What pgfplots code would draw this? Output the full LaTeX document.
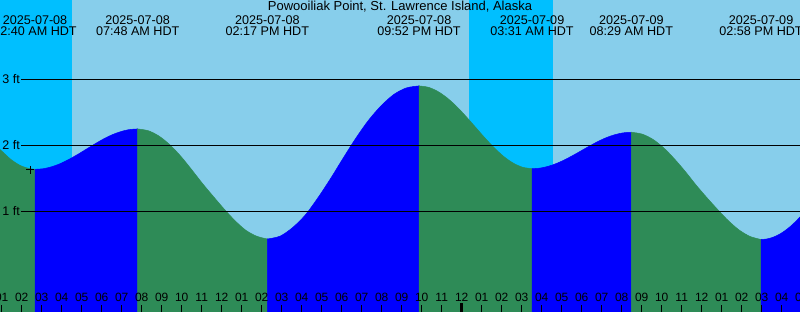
\documentclass[border=0pt]{standalone}
\usepackage{pgfplots}
\pgfplotsset{compat=1.18}
\usepackage{fontspec}
\setmainfont{Liberation Sans}
\definecolor{skyday}{HTML}{87CEEB}
\definecolor{skynight}{HTML}{00BFFF}
\definecolor{rise}{HTML}{0000FF}
\definecolor{fall}{HTML}{2E8B57}
\newcommand\hourlab[1]{\pgfmathtruncatemacro\hh{mod(#1-1,12)+1}\ifnum\hh<10 0\fi\hh}
\begin{document}
\begin{tikzpicture}
\begin{axis}[
  at={(0,0)}, anchor=south west,
  scale only axis, width=800pt, height=312pt,
  xmin=0.915, xmax=40.915, ymin=-0.5151, ymax=4.1979,
  axis background/.style={fill=skyday},
  axis line style={draw=none},
  axis on top=true,
  ytick=\empty,
  xtick={1,2,...,40}, xticklabel={},
  extra x ticks={24}, extra x tick labels={},
  extra x tick style={major tick length=8.7pt, tick style={line width=3pt, black}},
  tick pos=left, tick align=inside, major tick length=7pt,
  tick style={black, line width=1pt},
  clip=true,
]
% night bands
\addplot[fill=skynight, draw=none] coordinates {(0,-1) (4.5,-1) (4.5,5) (0,5)} -- cycle;
\addplot[fill=skynight, draw=none] coordinates {(24.365,-1) (28.565,-1) (28.565,5) (24.365,5)} -- cycle;
% tide segments
\addplot[fill=fall, draw=fall, line width=0.5pt, smooth] coordinates {
(0.915,1.94) (1.165,1.87) (1.415,1.80) (1.665,1.745) (1.915,1.70) (2.165,1.67) (2.415,1.65) (2.667,1.64)
} -- (axis cs:2.667,-1) -- (axis cs:0.915,-1) -- cycle;
\addplot[fill=rise, draw=rise, line width=0.5pt, smooth] coordinates {
(2.667,1.640) (3.095,1.650) (3.523,1.681) (3.950,1.729) (4.378,1.793) (4.806,1.866) (5.234,1.945)
(5.661,2.024) (6.089,2.098) (6.517,2.161) (6.945,2.209) (7.372,2.240) (7.800,2.250)
} -- (axis cs:7.8,-1) -- (axis cs:2.667,-1) -- cycle;
\addplot[fill=fall, draw=fall, line width=0.5pt, smooth] coordinates {
(7.800,2.250) (8.340,2.222) (8.881,2.139) (9.421,2.007) (9.961,1.835) (10.501,1.634) (11.042,1.425)
(11.582,1.230) (12.122,1.040) (12.662,0.865) (13.203,0.720) (13.743,0.630) (14.283,0.588)
} -- (axis cs:14.283,-1) -- (axis cs:7.8,-1) -- cycle;
\addplot[fill=rise, draw=rise, line width=0.5pt, smooth] coordinates {
(14.283,0.588) (14.915,0.630) (15.547,0.760) (16.179,0.950) (16.811,1.210) (17.443,1.500) (18.075,1.810)
(18.707,2.110) (19.339,2.380) (19.971,2.600) (20.603,2.770) (21.235,2.870) (21.867,2.900)
} -- (axis cs:21.867,-1) -- (axis cs:14.283,-1) -- cycle;
\addplot[fill=fall, draw=fall, line width=0.5pt, smooth] coordinates {
(21.867,2.900) (22.338,2.879) (22.809,2.816) (23.279,2.717) (23.750,2.588) (24.221,2.437) (24.692,2.275)
(25.163,2.113) (25.634,1.963) (26.104,1.833) (26.575,1.734) (27.046,1.671) (27.517,1.650)
} -- (axis cs:27.517,-1) -- (axis cs:21.867,-1) -- cycle;
\addplot[fill=rise, draw=rise, line width=0.5pt, smooth] coordinates {
(27.517,1.650) (27.931,1.659) (28.345,1.687) (28.758,1.731) (29.172,1.788) (29.586,1.854) (30.000,1.925)
(30.414,1.996) (30.828,2.063) (31.241,2.120) (31.655,2.163) (32.069,2.191) (32.483,2.200)
} -- (axis cs:32.483,-1) -- (axis cs:27.517,-1) -- cycle;
\addplot[fill=fall, draw=fall, line width=0.5pt, smooth] coordinates {
(32.483,2.200) (33.023,2.172) (33.564,2.092) (34.104,1.963) (34.644,1.795) (35.185,1.605) (35.725,1.400)
(36.265,1.210) (36.805,1.030) (37.346,0.860) (37.886,0.720) (38.426,0.625) (38.967,0.580)
} -- (axis cs:38.967,-1) -- (axis cs:32.483,-1) -- cycle;
\addplot[fill=rise, draw=rise, line width=0.5pt, smooth] coordinates {
(38.967,0.580) (39.217,0.586) (39.467,0.604) (39.717,0.633) (39.967,0.673) (40.217,0.725)
(40.467,0.786) (40.717,0.858) (40.915,0.920)
} -- (axis cs:40.915,-1) -- (axis cs:38.967,-1) -- cycle;
% level lines
\addplot[black, line width=1pt] coordinates {(1.965,1) (40.915,1)};
\addplot[black, line width=1pt] coordinates {(1.965,2) (40.915,2)};
\addplot[black, line width=1pt] coordinates {(1.965,3) (40.915,3)};
% marker
\addplot[only marks, mark=+, mark size=4pt, black, line width=1pt] coordinates {(2.415,1.63)};
% level labels
\node[anchor=base east, inner sep=0, font=\fontsize{12.5}{14}\selectfont] at (axis cs:1.915,2.94) {3 ft};
\node[anchor=base east, inner sep=0, font=\fontsize{12.5}{14}\selectfont] at (axis cs:1.915,1.94) {2 ft};
\node[anchor=base east, inner sep=0, font=\fontsize{12.5}{14}\selectfont] at (axis cs:1.915,0.94) {1 ft};
% hour labels
\pgfplotsinvokeforeach{1,...,41}{\node[anchor=base, inner sep=0, font=\fontsize{12}{14}\selectfont] at (axis cs:#1,-0.364) {\hourlab{#1}};}
% title
\node[anchor=base, inner sep=0, font=\fontsize{13}{15}\selectfont] at (axis cs:20.915,4.032) {Powooiliak Point, St. Lawrence Island, Alaska};
% extreme labels
\pgfplotsset{every extlab/.style={anchor=base, inner sep=0, font=\fontsize{12.6}{14}\selectfont}}
\node[anchor=base, inner sep=0, font=\fontsize{12.6}{14}\selectfont] at (axis cs:2.667,3.835) {2025-07-08};
\node[anchor=base, inner sep=0, font=\fontsize{12.6}{14}\selectfont] at (axis cs:2.667,3.654) {02:40 AM HDT};
\node[anchor=base, inner sep=0, font=\fontsize{12.6}{14}\selectfont] at (axis cs:7.8,3.835) {2025-07-08};
\node[anchor=base, inner sep=0, font=\fontsize{12.6}{14}\selectfont] at (axis cs:7.8,3.654) {07:48 AM HDT};
\node[anchor=base, inner sep=0, font=\fontsize{12.6}{14}\selectfont] at (axis cs:14.283,3.835) {2025-07-08};
\node[anchor=base, inner sep=0, font=\fontsize{12.6}{14}\selectfont] at (axis cs:14.283,3.654) {02:17 PM HDT};
\node[anchor=base, inner sep=0, font=\fontsize{12.6}{14}\selectfont] at (axis cs:21.867,3.835) {2025-07-08};
\node[anchor=base, inner sep=0, font=\fontsize{12.6}{14}\selectfont] at (axis cs:21.867,3.654) {09:52 PM HDT};
\node[anchor=base, inner sep=0, font=\fontsize{12.6}{14}\selectfont] at (axis cs:27.517,3.835) {2025-07-09};
\node[anchor=base, inner sep=0, font=\fontsize{12.6}{14}\selectfont] at (axis cs:27.517,3.654) {03:31 AM HDT};
\node[anchor=base, inner sep=0, font=\fontsize{12.6}{14}\selectfont] at (axis cs:32.483,3.835) {2025-07-09};
\node[anchor=base, inner sep=0, font=\fontsize{12.6}{14}\selectfont] at (axis cs:32.483,3.654) {08:29 AM HDT};
\node[anchor=base, inner sep=0, font=\fontsize{12.6}{14}\selectfont] at (axis cs:38.967,3.835) {2025-07-09};
\node[anchor=base, inner sep=0, font=\fontsize{12.6}{14}\selectfont] at (axis cs:38.967,3.654) {02:58 PM HDT};
\end{axis}
\pgfresetboundingbox
\useasboundingbox (0,0) rectangle (800pt,312pt);
\end{tikzpicture}
\end{document}
